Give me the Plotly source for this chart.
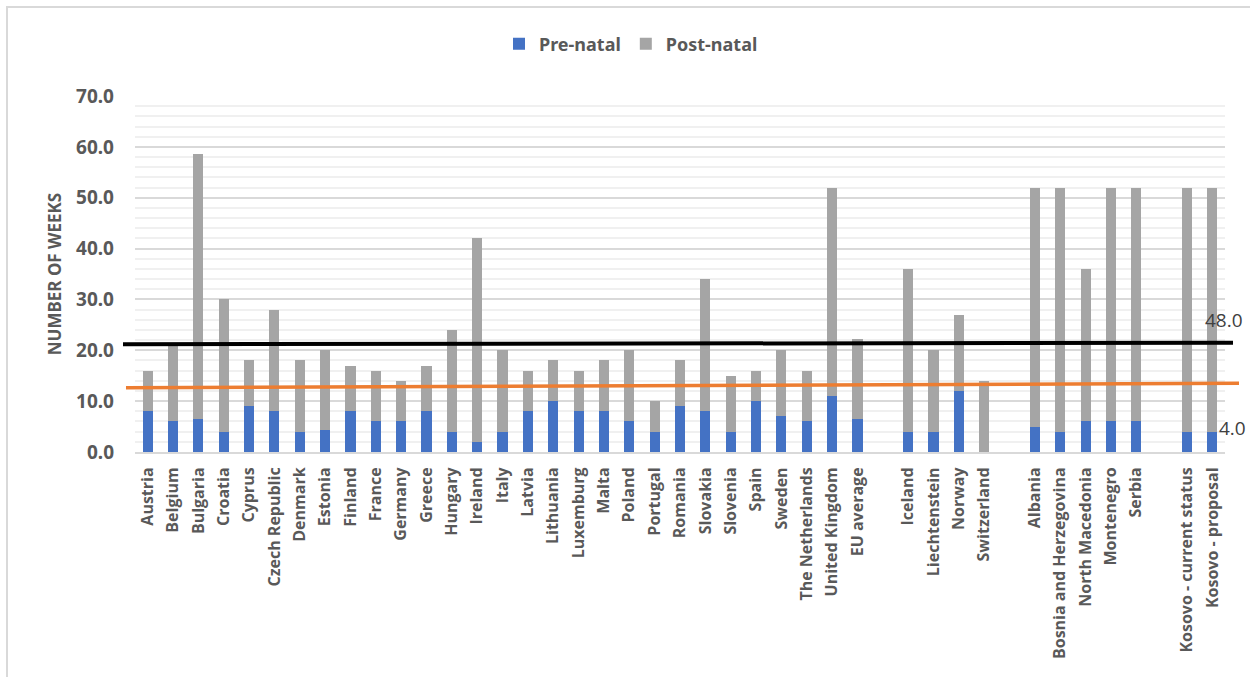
import plotly.graph_objects as go

# Maternity leave duration (weeks), split into pre-natal and post-natal parts
eu_countries = ["Austria", "Belgium", "Bulgaria", "Croatia", "Cyprus", "Czech Republic",
                "Denmark", "Estonia", "Finland", "France", "Germany", "Greece", "Hungary",
                "Ireland", "Italy", "Latvia", "Lithuania", "Luxemburg", "Malta", "Poland",
                "Portugal", "Romania", "Slovakia", "Slovenia", "Spain", "Sweden",
                "The Netherlands", "United Kingdom", "EU average"]
eu_pre = [8, 6, 6.4, 4, 9, 8, 4, 4.3, 8, 6, 6, 8, 4, 2, 4, 8, 10, 8, 8, 6, 4, 9, 8, 4, 10, 7, 6, 11, 6.5]
eu_post = [8, 15, 52.2, 26, 9, 20, 14, 15.7, 9, 10, 8, 9, 20, 40, 16, 8, 8, 8, 10, 14, 6, 9, 26, 11, 6, 13, 10, 41, 15.8]

efta_countries = ["Iceland", "Liechtenstein", "Norway", "Switzerland"]
efta_pre = [4, 4, 12, 0]
efta_post = [32, 16, 15, 14]

balkan_countries = ["Albania", "Bosnia and Herzegovina", "North Macedonia", "Montenegro", "Serbia"]
balkan_pre = [5, 4, 6, 6, 6]
balkan_post = [47, 48, 30, 46, 46]

kosovo_cases = ["Kosovo - current status", "Kosovo - proposal"]
kosovo_pre = [4, 4]
kosovo_post = [48, 48]

# Reference levels drawn across the chart (left end, right end), in weeks
black_level = (21.18, 21.49)
orange_level = (12.64, 13.5)

PRE_COLOR = "#4472C4"
POST_COLOR = "#A5A5A5"
TEXT_COLOR = "#595959"

# Categories with blank spacer slots between the country groups
groups = [(eu_countries, eu_pre, eu_post),
          (efta_countries, efta_pre, efta_post),
          (balkan_countries, balkan_pre, balkan_post),
          (kosovo_cases, kosovo_pre, kosovo_post)]
categories, pre_vals, post_vals = [], [], []
for i, (names, pre, post) in enumerate(groups):
    if i > 0:
        categories.append(" " * i)
        pre_vals.append(None)
        post_vals.append(None)
    categories += names
    pre_vals += pre
    post_vals += post

fig = go.Figure()
fig.add_trace(go.Bar(name="Pre-natal", x=categories, y=pre_vals,
                     marker=dict(color=PRE_COLOR, line=dict(width=0))))
fig.add_trace(go.Bar(name="Post-natal", x=categories, y=post_vals,
                     marker=dict(color=POST_COLOR, line=dict(width=0))))

L, R, T, B = 135, 25, 96, 225
W, H = 1250, 677
pw, ph = W - L - R, H - T - B

def px_to_paper_x(px):
    return (px - L) / pw

def px_to_paper_y(py):
    return (H - B - py) / ph

shapes = [
    # outer frame of the chart area
    dict(type="rect", xref="paper", yref="paper",
         x0=px_to_paper_x(7), x1=px_to_paper_x(1260),
         y0=px_to_paper_y(690), y1=px_to_paper_y(7),
         line=dict(color="#D9D9D9", width=2), fillcolor="rgba(0,0,0,0)", layer="below"),
    dict(type="line", xref="paper", yref="y",
         x0=px_to_paper_x(123), x1=px_to_paper_x(1233),
         y0=black_level[0], y1=black_level[1],
         line=dict(color="#000000", width=4)),
    dict(type="line", xref="paper", yref="y",
         x0=px_to_paper_x(126), x1=px_to_paper_x(1239),
         y0=orange_level[0], y1=orange_level[1],
         line=dict(color="#ED7D31", width=3.5)),
]

# Value labels beside the last bar
last = categories[-1]
annotations = [
    dict(x=last, y=(pre_vals[-1] + post_vals[-1]) / 2, text=f"{post_vals[-1]:.1f}",
         showarrow=False, xshift=12, xanchor="center", yanchor="middle",
         font=dict(family="Open Sans", size=19, color="#404040")),
    dict(x=last, y=pre_vals[-1], text=f"{pre_vals[-1]:.1f}",
         showarrow=False, xshift=20, yshift=4, xanchor="center", yanchor="middle",
         font=dict(family="Open Sans", size=19, color="#404040")),
]

fig.update_layout(
    width=W, height=H,
    margin=dict(l=L, r=R, t=T, b=B, autoexpand=False),
    barmode="stack",
    bargap=0.6,
    plot_bgcolor="white",
    paper_bgcolor="white",
    shapes=shapes,
    annotations=annotations,
    legend=dict(orientation="h", x=px_to_paper_x(499), y=px_to_paper_y(44),
                xanchor="left", yanchor="middle", traceorder="normal",
                font=dict(family="Noto Sans", size=18, color=TEXT_COLOR, weight="bold"),
                itemwidth=30, tracegroupgap=0),
    xaxis=dict(type="category", categoryorder="array", categoryarray=categories,
               range=[-0.5, len(categories) - 0.5],
               tickangle=-90, showgrid=False, ticks="", ticklabelstandoff=7,
               showline=True, linecolor="#D9D9D9", linewidth=2,
               tickfont=dict(family="Open Sans", size=16, color=TEXT_COLOR, weight="bold")),
    yaxis=dict(range=[0, 70], dtick=10, tickformat=".1f",
               showgrid=True, gridcolor="#D9D9D9", gridwidth=1.5,
               minor=dict(dtick=2, showgrid=True, gridcolor="#F0F0F0", gridwidth=1.5),
               zeroline=False, ticks="", ticklabelstandoff=20,
               tickfont=dict(family="Noto Sans", size=19, color=TEXT_COLOR, weight="bold"),
               title=dict(text="NUMBER OF WEEKS", standoff=10,
                          font=dict(family="Noto Sans", size=17, color=TEXT_COLOR, weight="bold"))),
)

fig.write_html("out.html")
